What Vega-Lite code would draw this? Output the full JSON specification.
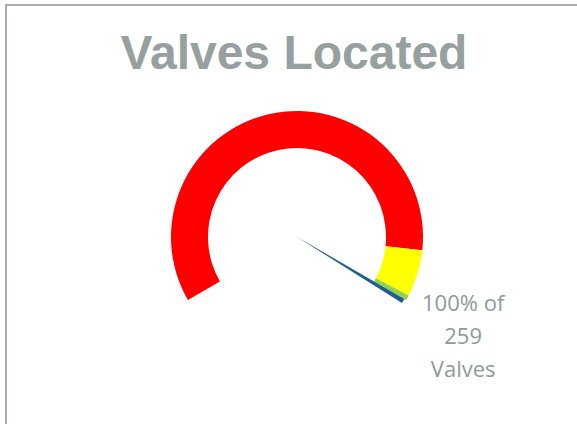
{
  "$schema": "https://vega.github.io/schema/vega-lite/v6.json",
  "autosize": "none",
  "padding": {"left": 6, "top": 5, "right": 0, "bottom": 0},
  "width": 582,
  "height": 464,
  "background": "white",
  "view": {"stroke": "#A5ADAB", "strokeWidth": 2},
  "config": {"view": {"stroke": "#A5ADAB", "strokeWidth": 2}},
  "title": {
    "text": "Valves Located",
    "font": "Liberation Sans",
    "fontSize": 48,
    "fontWeight": "bold",
    "color": "#95A09F",
    "frame": "group",
    "anchor": "middle",
    "baseline": "alphabetic",
    "offset": -45,
    "dy": 67,
    "dx": -3
  },
  "datasets": {
    "bands": [
      {"part": "Red", "start": 0, "end": 90},
      {"part": "Yellow", "start": 90, "end": 99},
      {"part": "Green", "start": 99, "end": 100}
    ],
    "needle": [
      {"part": "Needle", "start": 100, "end": 100.9}
    ],
    "label": [
      {"label": "100% of\n259\nValves", "value": 100.45}
    ]
  },
  "layer": [
    {
      "data": {"name": "bands"},
      "mark": {"type": "arc", "radius": 126, "radius2": 89},
      "encoding": {
        "theta": {
          "field": "start",
          "type": "quantitative",
          "stack": null,
          "scale": {"domain": [0, 100], "range": [-2.0944, 2.0944], "nice": false, "zero": false}
        },
        "theta2": {"field": "end"},
        "color": {
          "field": "part",
          "type": "nominal",
          "scale": {"domain": ["Red", "Yellow", "Green"], "range": ["#FF0000", "#FFFF00", "#92D050"]},
          "legend": null
        }
      }
    },
    {
      "data": {"name": "needle"},
      "mark": {"type": "arc", "radius": 124, "radius2": 0, "color": "#1F5F8C"},
      "encoding": {
        "theta": {"field": "start", "type": "quantitative", "stack": null},
        "theta2": {"field": "end"}
      }
    },
    {
      "data": {"name": "label"},
      "mark": {
        "type": "text",
        "radius": 194,
        "dy": -33,
        "font": "Open Sans",
        "fontSize": 22,
        "color": "#8C9B99",
        "lineBreak": "\n",
        "lineHeight": 33,
        "align": "center",
        "baseline": "middle"
      },
      "encoding": {
        "theta": {"field": "value", "type": "quantitative", "stack": null},
        "text": {"field": "label"}
      }
    }
  ]
}
